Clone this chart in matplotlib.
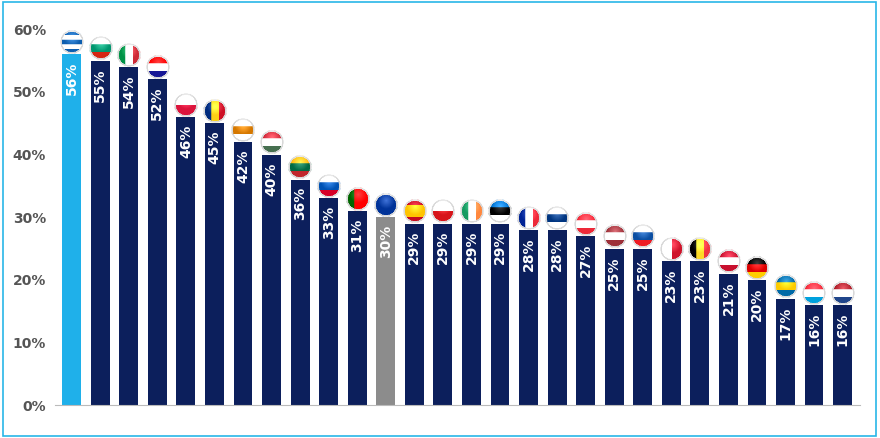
import numpy as np
import matplotlib
matplotlib.use("Agg")
import matplotlib.pyplot as plt
from matplotlib.offsetbox import OffsetImage, AnnotationBbox
from matplotlib.patches import Rectangle

countries = ["GR","BG","IT","HR","PL","RO","CY","HU","LT","SI","PT","EU","ES","CZ","IE","EE","FR","FI","AT","LV","SK","MT","BE","DK","DE","SE","LU","NL"]
values = [56,55,54,52,46,45,42,40,36,33,31,30,29,29,29,29,28,28,27,25,25,23,23,21,20,17,16,16]
yticks = [0,10,20,30,40,50,60]

flags = {
 "GR":("h",["#0d5eaf","#ffffff","#0d5eaf","#ffffff","#0d5eaf"]),
 "BG":("h",["#ffffff","#00966e","#d62612"]),
 "IT":("v",["#009246","#ffffff","#ce2b37"]),
 "HR":("h",["#ff0000","#ffffff","#171796"]),
 "PL":("h",["#ffffff","#dc143c"]),
 "RO":("v",["#002b7f","#fcd116","#ce1126"]),
 "CY":("h",["#ffffff","#d57800","#ffffff"]),
 "HU":("h",["#ce2939","#ffffff","#477050"]),
 "LT":("h",["#fdb913","#006a44","#c1272d"]),
 "SI":("h",["#ffffff","#0052b4","#d80027"]),
 "PT":("v",["#006600","#ff0000","#ff0000"]),
 "EU":("h",["#003399"]),
 "ES":("h",["#c60b1e","#ffc400","#ffc400","#c60b1e"]),
 "CZ":("h",["#ffffff","#d7141a"]),
 "IE":("v",["#169b62","#ffffff","#ff883e"]),
 "EE":("h",["#0072ce","#000000","#ffffff"]),
 "FR":("v",["#002395","#ffffff","#ed2939"]),
 "FI":("h",["#ffffff","#003580","#ffffff"]),
 "AT":("h",["#ed2939","#ffffff","#ed2939"]),
 "LV":("h",["#9e3039","#ffffff","#9e3039"]),
 "SK":("h",["#ffffff","#0b4ea2","#ee1c25"]),
 "MT":("v",["#ffffff","#cf142b"]),
 "BE":("v",["#000000","#fdda24","#ef3340"]),
 "DK":("h",["#c8102e","#ffffff","#c8102e"]),
 "DE":("h",["#000000","#dd0000","#ffce00"]),
 "SE":("h",["#006aa7","#fecc00","#006aa7"]),
 "LU":("h",["#ed2939","#ffffff","#00a1de"]),
 "NL":("h",["#ae1c28","#ffffff","#21468b"]),
}

def flag_img(code, n=40):
    o, cols = flags[code]
    img = np.ones((n, n, 4))
    yy, xx = np.mgrid[0:n, 0:n]
    k = len(cols)
    idx = (yy if o == "h" else xx) * k // n
    for i, c in enumerate(cols):
        img[idx == i, :3] = matplotlib.colors.to_rgb(c)
    r = np.hypot(yy - (n-1)/2, xx - (n-1)/2)
    img[..., 3] = np.clip((n/2 - r), 0, 1)
    edge = (r > n/2 - 3) & (r <= n/2)
    img[edge, :3] = 0.85
    img[..., :3] = np.clip(img[..., :3] + 0.25*np.clip(1 - np.hypot(yy - n*0.3, xx - n*0.5)/(n*0.35), 0, 1)[..., None], 0, 1)
    return img

fig = plt.figure(figsize=(8.8, 4.38), dpi=100)
fig.patches.append(Rectangle((0.003, 0.005), 0.992, 0.99, transform=fig.transFigure,
                             fill=False, edgecolor="#29b6e8", linewidth=1.2))
ax = fig.add_axes([0.062, 0.075, 0.915, 0.858])
x = np.arange(len(values))
colors = ["#1fb0ea" if c == "GR" else "#8c8c8c" if c == "EU" else "#0c1f5c" for c in countries]
ax.bar(x, values, width=0.66, color=colors, zorder=2)
for xi, v, c in zip(x, values, countries):
    ax.text(xi, v - 1.2, f"{v}%", rotation=90, ha="center", va="top", color="white",
            fontsize=10, fontweight="bold", zorder=3)
    ab = AnnotationBbox(OffsetImage(flag_img(c), zoom=0.42), (xi, v + 1.9), frameon=False, zorder=4)
    ax.add_artist(ab)
ax.set_ylim(0, 60)
ax.set_xlim(-0.6, len(values) - 0.4)
ax.set_yticks(yticks)
ax.set_yticklabels([f"{t}%" for t in yticks], fontsize=10, fontweight="bold", color="#555555")
ax.set_xticks([])
for s in ["top", "right", "left"]:
    ax.spines[s].set_visible(False)
ax.spines["bottom"].set_color("#bbbbbb")
ax.tick_params(axis="y", length=0, pad=6)
fig.savefig("out.png", dpi=100)
